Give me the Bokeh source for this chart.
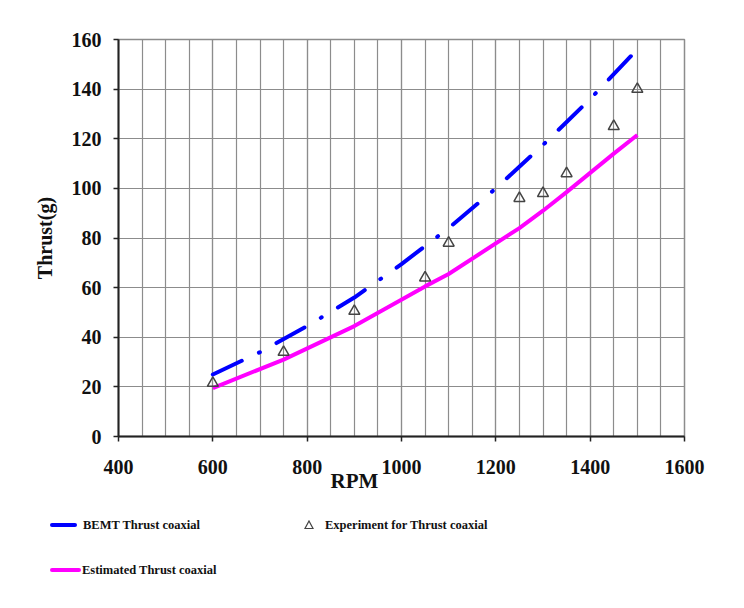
from bokeh.plotting import figure
from bokeh.layouts import column
from bokeh.models import Range1d, SingleIntervalTicker, Title, Div
from bokeh.embed import file_html
from bokeh.resources import INLINE

# BEMT prediction for the coaxial rotor
rpm_bemt = [600, 700, 800, 900, 1000, 1100, 1200, 1300, 1400, 1500]
thrust_bemt = [25, 34, 44.5, 56, 69.5, 84, 100, 117.5, 136, 156]

# Estimated thrust for the coaxial rotor
rpm_est = [600, 750, 900, 1050, 1100, 1250, 1300, 1350, 1450, 1500]
thrust_est = [19.5, 31, 44.5, 60.5, 65.5, 84, 91, 98.5, 114, 121.5]

# Measured thrust
rpm_exp = [600, 750, 900, 1050, 1100, 1250, 1300, 1350, 1450, 1500]
thrust_exp = [21.5, 34, 50.5, 64, 78, 96, 98, 106, 125, 140]

series_labels = ["BEMT Thrust coaxial", "Experiment for Thrust coaxial",
                 "Estimated Thrust coaxial"]

FONT = "Liberation Serif"
GRID = "#8c8c8c"
INK = "#111111"
BLUE = "#0000ff"
MAGENTA = "#ff00ff"
MARKER_EDGE = "#444444"

chart = figure(
    frame_width=566, frame_height=397,
    min_border_left=118, min_border_right=60,
    min_border_top=39, min_border_bottom=70,
    x_range=Range1d(400, 1600), y_range=Range1d(0, 160),
    output_backend="svg", toolbar_location=None,
    background_fill_color="white", border_fill_color="white",
)
chart.outline_line_color = GRID
chart.outline_line_width = 1.5

# axes and ticks
chart.xaxis.ticker = SingleIntervalTicker(interval=200, num_minor_ticks=4)
chart.yaxis.ticker = SingleIntervalTicker(interval=20, num_minor_ticks=0)
for ax in (chart.xaxis, chart.yaxis):
    ax.axis_line_color = "#222222"
    ax.axis_line_width = 2
    ax.major_tick_line_color = "#222222"
    ax.major_tick_line_width = 1.5
    ax.major_tick_in = 0
    ax.major_tick_out = 5
    ax.minor_tick_line_color = None
    ax.major_label_text_font = FONT
    ax.major_label_text_font_style = "bold"
    ax.major_label_text_font_size = "20px"
    ax.major_label_text_color = INK
chart.xaxis.major_label_standoff = 18
chart.yaxis.major_label_standoff = 12

chart.yaxis.axis_label = "Thrust(g)"
chart.yaxis.axis_label_standoff = 13
chart.yaxis.axis_label_text_font = FONT
chart.yaxis.axis_label_text_font_style = "bold"
chart.yaxis.axis_label_text_font_size = "20px"
chart.yaxis.axis_label_text_color = INK

# grid: major lines every 200 rpm / 20 g, minor lines every 50 rpm
chart.xgrid.grid_line_color = GRID
chart.xgrid.minor_grid_line_color = GRID
chart.ygrid.grid_line_color = GRID
for g in (chart.xgrid, chart.ygrid):
    g.grid_line_width = 1.2
chart.xgrid.minor_grid_line_width = 1.2

# series
chart.line(rpm_bemt, thrust_bemt, line_color=BLUE, line_width=4,
           line_dash="32 19 1 19", line_cap="round")
chart.line(rpm_est, thrust_est, line_color=MAGENTA, line_width=4,
           line_join="round")
chart.scatter(rpm_exp, thrust_exp, marker="triangle", size=11,
              fill_color=None, line_color=MARKER_EDGE, line_width=1.5)

# x axis title, set off to the left of centre
chart.add_layout(Title(text="RPM", align="left", offset=212, standoff=-20,
                       text_font=FONT, text_font_style="bold",
                       text_font_size="21px", text_color=INK), "below")

# key under the chart
text_css = (f"position:absolute;line-height:16px;white-space:nowrap;"
            f"font-family:'{FONT}';font-weight:bold;font-size:12.5px;color:{INK};")
key_html = (
    '<div style="position:relative;width:744px;height:102px;">'
    # BEMT entry
    f'<div style="position:absolute;left:50px;top:17px;width:27px;height:4px;'
    f'border-radius:2px;background:{BLUE};"></div>'
    f'<div style="{text_css}left:83px;top:11px;">{series_labels[0]}</div>'
    # experiment entry
    '<svg style="position:absolute;left:304px;top:14px;" width="10" height="10">'
    f'<polygon points="5,1 9,8.5 1,8.5" fill="none" stroke="{MARKER_EDGE}" '
    'stroke-width="1.2"/></svg>'
    f'<div style="{text_css}left:325px;top:11px;">{series_labels[1]}</div>'
    # estimated entry
    f'<div style="position:absolute;left:50px;top:62px;width:31px;height:4px;'
    f'border-radius:2px;background:{MAGENTA};"></div>'
    f'<div style="{text_css}left:82px;top:56px;">{series_labels[2]}</div>'
    '</div>'
)
key = Div(text=key_html, width=744, height=102, margin=(0, 0, 0, 0))

p = column(chart, key, spacing=0)

open("out.html", "w").write(file_html(p, INLINE))
